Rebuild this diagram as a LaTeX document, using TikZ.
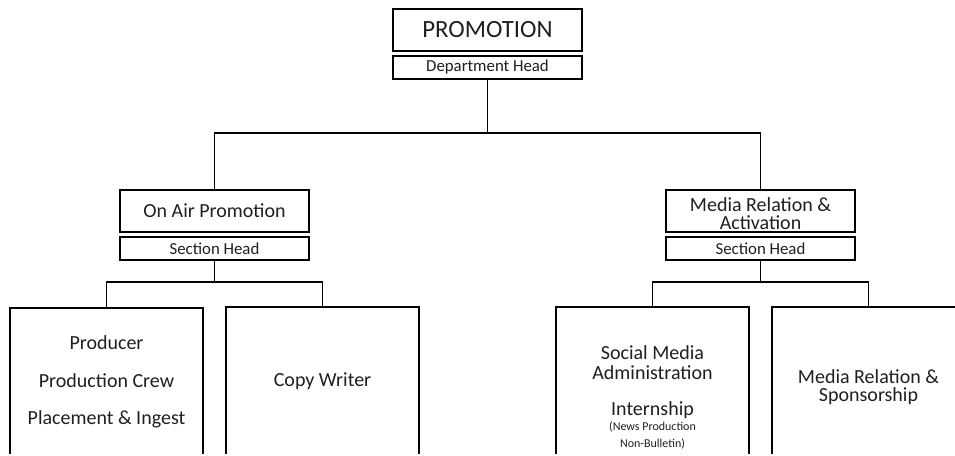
\documentclass[tikz,border=0pt]{standalone}
\usepackage{fontspec}
\setmainfont{Carlito}
\newcommand{\smalltxt}[1]{{\fontsize{12}{14}\selectfont #1}}
\begin{document}
\begin{tikzpicture}[x=1pt,y=-1pt,
  box/.style={draw=black,line width=1.5pt,rectangle,inner sep=0pt,align=center,text=black!88},
  titlebox/.style={box,minimum width=189pt,minimum height=42pt,font=\fontsize{20}{18}\selectfont},
  headbox/.style={box,minimum width=189pt,minimum height=23pt,font=\fontsize{16.8}{18}\selectfont},
  leafbox/.style={box,minimum width=193pt,minimum height=148pt,font=\fontsize{20}{20}\selectfont},
  leaftext/.style={align=center,inner sep=0pt,text=black!88,font=\fontsize{20}{20}\selectfont},
  conn/.style={draw=black,line width=1.5pt}]
\useasboundingbox (0,0) rectangle (955,455);
\clip (0,0) rectangle (955,453.5);
% top
\node[titlebox,font=\fontsize{24.8}{26}\selectfont] (prom) at (487.5,30) {PROMOTION};
\node[headbox] (dept) at (487.5,67.5) {Department Head};
% sections
\node[titlebox] (onair) at (214.5,211) {On Air Promotion};
\node[headbox] (sh1) at (214.5,248.5) {Section Head};
\node[titlebox] (media) at (760.5,211) {};
\node[leaftext] (mediatext) at (760.5,213.5) {Media Relation \&\\[-1.5pt]Activation};
\node[headbox] (sh2) at (760.5,248.5) {Section Head};
% leaves
\node[leafbox,font=\fontsize{20}{37.5}\selectfont] (prod) at (106.5,382) {Producer\\Production Crew\\Placement \& Ingest};
\node[leafbox] (copy) at (322.5,381) {Copy Writer};
\node[leafbox] (social) at (652.5,381) {};
\node[leaftext] (socialtext) at (652.5,397.5)
  {Social Media\\Administration\\[16pt]Internship\\[-5pt]\smalltxt{(News Production}\\[-3pt]\smalltxt{Non-Bulletin)}};
\node[leafbox] (spons) at (868.5,381) {};
\node[leaftext] (sponstext) at (868.5,387) {Media Relation \&\\[-1.5pt]Sponsorship};
% connectors
\coordinate (j0) at (487.5,133);
\coordinate (j1) at (214.5,282);
\coordinate (j2) at (760.5,282);
\draw[conn] (dept.south) -- (j0);
\draw[conn] (onair.north) |- (j0) -| (media.north);
\draw[conn] (sh1.south) -- (j1);
\draw[conn] (prod.north) |- (j1) -| (copy.north);
\draw[conn] (sh2.south) -- (j2);
\draw[conn] (social.north) |- (j2) -| (spons.north);
\end{tikzpicture}
\end{document}
